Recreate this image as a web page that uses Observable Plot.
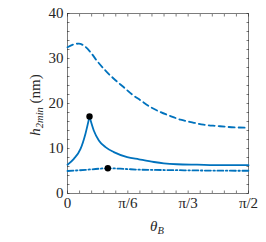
<!DOCTYPE html>
<html>
<head>
<meta charset="utf-8">
<script src="https://cdn.jsdelivr.net/npm/d3@7"></script>
<script src="https://cdn.jsdelivr.net/npm/@observablehq/plot@0.6"></script>
<style>
  html, body { margin: 0; padding: 0; background: white; }
</style>
</head>
<body>
<div id="chart"></div>
<script>
// ---- data ----
const dashTheta = [0, 0.05, 0.098, 0.15, 0.2, 0.258, 0.33, 0.402, 0.489, 0.561, 0.634, 0.72, 0.807, 0.894, 0.981, 1.082, 1.18, 1.3, 1.386, 1.571];
const dashH     = [32.5, 33.1, 33.3, 32.7, 31.4, 29.4, 27.3, 25.5, 23.6, 22.0, 20.7, 19.2, 18.1, 17.2, 16.4, 15.8, 15.3, 15.0, 14.8, 14.6];

const solidTheta = [0, 0.055, 0.113, 0.156, 0.191, 0.228, 0.272, 0.33, 0.402, 0.518, 0.62, 0.75, 0.836, 0.95, 1.125, 1.35, 1.571];
const solidH     = [6.4, 7.7, 9.9, 13.3, 17.1, 14.0, 11.8, 10.3, 9.2, 8.1, 7.6, 7.0, 6.7, 6.5, 6.4, 6.3, 6.3];

const dashdotTheta = [0, 0.1, 0.2, 0.35, 0.5, 0.62, 0.9, 1.2, 1.571];
const dashdotH     = [5.0, 5.15, 5.35, 5.6, 5.45, 5.3, 5.2, 5.1, 5.05];

const markerTheta = [0.191, 0.35];
const markerH     = [17.1, 5.6];

const xTickValues = [0, Math.PI / 6, Math.PI / 3, Math.PI / 2];
const xTickLabels = ["0", "π/6", "π/3", "π/2"];
const xMinorTicks = d3.range(0, 16).map(i => i * Math.PI / 30);
const yTickValues = [0, 10, 20, 30, 40];
const yTickLabels = ["0", "10", "20", "30", "40"];
const yMinorTicks = d3.range(0, 41, 2);

// ---- build tables ----
const dashData = dashTheta.map((t, i) => ({t, h: dashH[i]}));
const dashdotData = dashdotTheta.map((t, i) => ({t, h: dashdotH[i]}));
const peak = d3.maxIndex(solidH);
const solidData = [
  ...solidTheta.slice(0, peak + 1).map((t, i) => ({t, h: solidH[i], b: 0})),
  ...solidTheta.slice(peak).map((t, i) => ({t, h: solidH[peak + i], b: 1}))
];
const markers = markerTheta.map((t, i) => ({t, h: markerH[i]}));
const xLabelRows = xTickValues.map((v, i) => ({v, s: xTickLabels[i]}));
const yLabelRows = yTickValues.map((v, i) => ({v, s: yTickLabels[i]}));

const blue = "#0072BD";
const axisColor = "#262626";
const font = "Liberation Serif";

const chart = Plot.plot({
  width: 266,
  height: 242,
  marginLeft: 67,
  marginRight: 18,
  marginTop: 13,
  marginBottom: 49,
  x: {domain: [0, Math.PI / 2], axis: null},
  y: {domain: [0, 40], axis: null},
  style: {background: "white", overflow: "visible"},
  marks: [
    Plot.axisX(xMinorTicks, {anchor: "bottom", tickSize: -2.5, tickFormat: () => "", label: null, stroke: axisColor, strokeWidth: 0.6}),
    Plot.axisX(xMinorTicks, {anchor: "top", tickSize: -2.5, tickFormat: () => "", label: null, stroke: axisColor, strokeWidth: 0.6}),
    Plot.axisY(yMinorTicks, {anchor: "left", tickSize: -2.5, tickFormat: () => "", label: null, stroke: axisColor, strokeWidth: 0.6}),
    Plot.axisY(yMinorTicks, {anchor: "right", tickSize: -2.5, tickFormat: () => "", label: null, stroke: axisColor, strokeWidth: 0.6}),
    Plot.text(xLabelRows, {x: "v", text: "s", frameAnchor: "bottom", dy: 14, fontFamily: font, fontSize: 15, fill: axisColor}),
    Plot.text(yLabelRows, {y: "v", text: "s", frameAnchor: "left", dx: -4, textAnchor: "end", fontFamily: font, fontSize: 15, fill: axisColor}),
    Plot.frame({stroke: axisColor, strokeWidth: 0.6}),
    Plot.line(dashData, {x: "t", y: "h", stroke: blue, strokeWidth: 1.8, strokeDasharray: "6,4", curve: "monotone-x"}),
    Plot.line(solidData, {x: "t", y: "h", z: "b", stroke: blue, strokeWidth: 1.8, curve: "monotone-x"}),
    Plot.line(dashdotData, {x: "t", y: "h", stroke: blue, strokeWidth: 1.8, strokeDasharray: "6,2.5,1.5,2.5", curve: "monotone-x"}),
    Plot.dot(markers, {x: "t", y: "h", r: 3.2, fill: "black", stroke: "none"})
  ]
});

const svg = d3.select(chart);
const yl = svg.append("text")
  .attr("transform", "translate(40,105) rotate(-90)")
  .attr("text-anchor", "middle")
  .attr("font-family", font)
  .attr("font-size", 15)
  .attr("fill", axisColor);
yl.append("tspan").attr("font-style", "italic").text("h");
yl.append("tspan").attr("font-style", "italic").attr("font-size", 10.5).attr("dy", 3).text("2min");
yl.append("tspan").attr("dy", -3).text(" (nm)");

const xl = svg.append("text")
  .attr("x", 157)
  .attr("y", 231)
  .attr("text-anchor", "middle")
  .attr("font-family", font)
  .attr("font-size", 15)
  .attr("fill", axisColor);
xl.append("tspan").attr("font-style", "italic").text("θ");
xl.append("tspan").attr("font-style", "italic").attr("font-size", 10.5).attr("dy", 3).text("B");

document.getElementById("chart").appendChild(chart);
</script>
</body>
</html>
